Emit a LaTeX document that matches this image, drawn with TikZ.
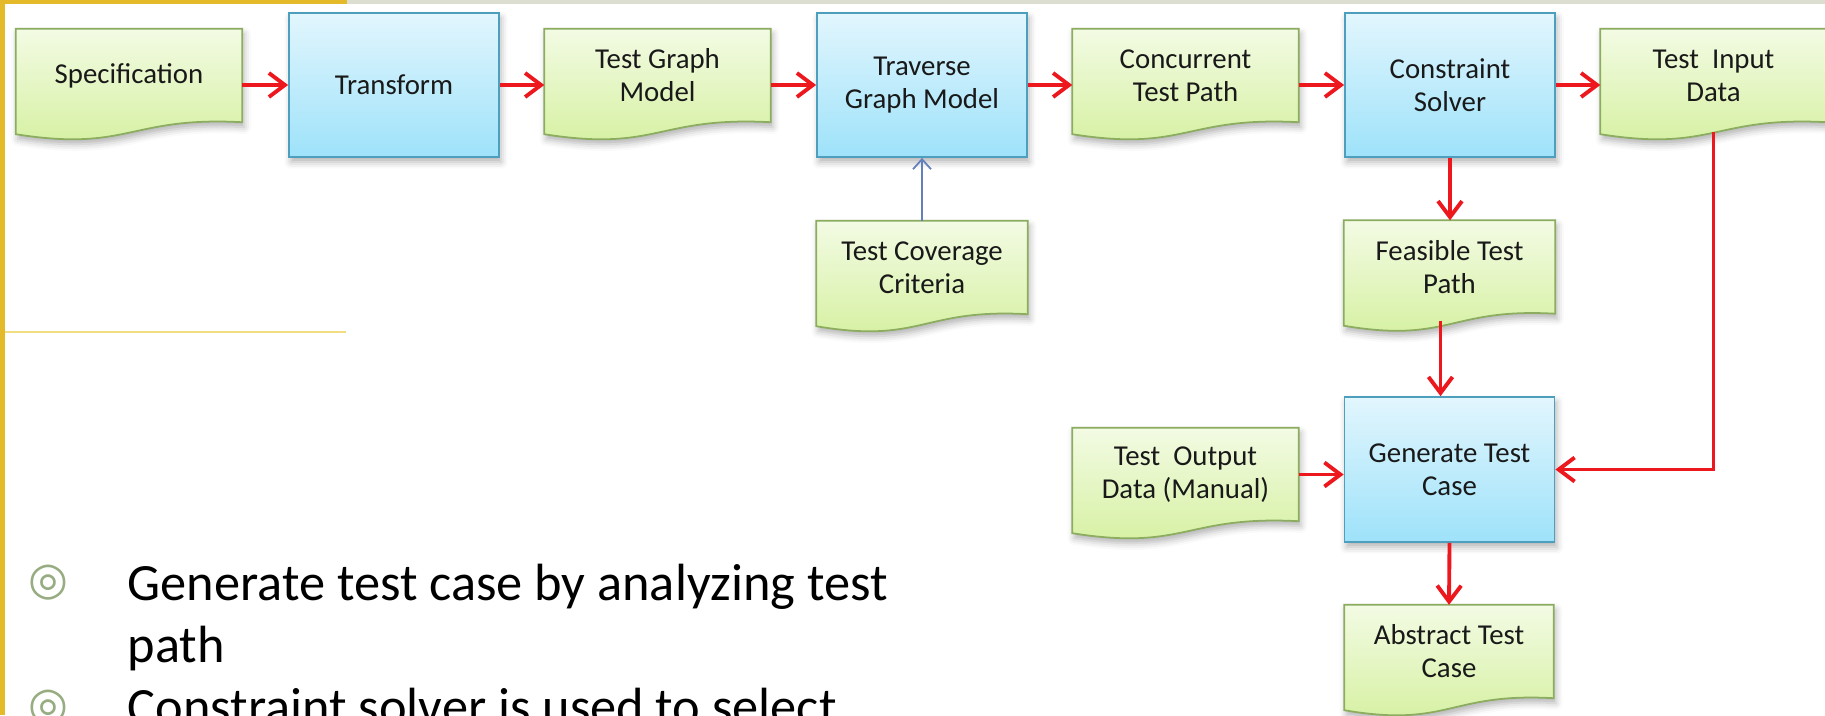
\documentclass[tikz,border=0pt]{standalone}
\usepackage{fontspec}
\setmainfont{Carlito}
\newfontfamily\symfont{DejaVu Sans}
\usetikzlibrary{arrows.meta, calc, shadows.blur}
\pgfdeclarelayer{background}
\pgfsetlayers{background,main}

\definecolor{slideyellow}{RGB}{229,186,42}
\definecolor{slidegray}{RGB}{220,222,208}
\definecolor{lineyellow}{RGB}{242,222,130}
\definecolor{doctop}{RGB}{243,251,228}
\definecolor{docbot}{RGB}{212,240,158}
\definecolor{docline}{RGB}{140,172,96}
\definecolor{boxtop}{RGB}{226,246,253}
\definecolor{boxbot}{RGB}{158,226,250}
\definecolor{boxline}{RGB}{78,158,190}
\definecolor{flowred}{RGB}{236,24,30}
\definecolor{feedblue}{RGB}{100,128,186}
\definecolor{bulletgreen}{RGB}{152,172,130}

\begin{document}
\begin{tikzpicture}[
    every node/.style={font=\fontsize{8.2}{9.4}\selectfont, text=black!90},
    procbox/.style={draw=boxline, line width=0.5pt, top color=boxtop, bottom color=boxbot,
        minimum width=2.10cm, minimum height=1.44cm, inner sep=0pt, align=center,
        blur shadow={shadow xshift=0.02cm, shadow yshift=-0.05cm, shadow opacity=30}},
    docnode/.style={minimum width=2.25cm, minimum height=0.92cm, inner sep=0pt, align=center},
    docshape/.style={draw=docline, line width=0.5pt, top color=doctop, bottom color=docbot,
        blur shadow={shadow xshift=0.02cm, shadow yshift=-0.05cm, shadow opacity=30}},
    flow/.style={draw=flowred, line width=1.1pt, -{Straight Barb[length=1.6mm, width=2.4mm]}},
    feed/.style={draw=feedblue, line width=0.5pt, -{Straight Barb[length=1mm, width=1.8mm]}},
    bullettext/.style={font=\fontsize{14.9}{17.6}\selectfont, text=black, anchor=base west, inner sep=0pt},
    bulletmark/.style={font=\symfont\fontsize{13}{13}\selectfont, text=bulletgreen, inner sep=0pt},
]

\useasboundingbox (0,0) rectangle (18.25,-7.15);
\clip (0,0) rectangle (18.25,-7.15);

% === slide frame ===
\fill[slideyellow] (0,0) rectangle (0.05,-7.15);
\fill[slideyellow] (0,0) rectangle (3.47,-0.04);
\fill[slidegray] (3.47,0) rectangle (18.25,-0.04);
\draw[lineyellow, line width=0.6pt] (0.05,-3.32) -- (3.46,-3.32);

% === top row ===
\node[docnode] (spec) at (1.29,-0.755) {Specification};
\node[procbox] (trf) at (3.94,-0.85) {Transform};
\node[docnode] (tgm) at (6.575,-0.755) {Test Graph\\Model};
\node[procbox] (tvs) at (9.22,-0.85) {Traverse\\Graph Model};
\node[docnode] (ctp) at (11.855,-0.755) {Concurrent\\Test Path};
\node[procbox] (cst) at (14.50,-0.85) {Constraint\\Solver};
\node[docnode] (tid) at (17.135,-0.755) {Test\ \ Input\\Data};

% === lower nodes ===
\node[docnode, minimum width=2.10cm] (tcc) at (9.22,-2.675) {Test Coverage\\Criteria};
\node[docnode, minimum width=2.10cm] (ftp) at (14.495,-2.67) {Feasible Test\\Path};
\node[docnode] (tod) at (11.855,-4.745) {Test\ \ Output\\Data (Manual)};
\node[procbox, minimum height=1.45cm] (gtc) at (14.495,-4.695) {Generate Test\\Case};
\node[docnode, minimum width=2.08cm] (atc) at (14.49,-6.515) {Abstract Test\\Case};

% === document outlines (wavy bottom) ===
\begin{pgfonlayer}{background}
\foreach \n in {spec,tgm,ctp,tid,tcc,ftp,tod,atc}{
    \path[docshape] (\n.north west) -- (\n.north east) -- (\n.south east)
        .. controls ($(\n.south)+(0,0.06)$) and ($(\n.south)+(0,-0.30)$) .. ($(\n.south west)+(0,-0.12)$)
        -- cycle;
}
\end{pgfonlayer}

% === connectors ===
\draw[flow] (spec.east |- trf) -- (trf.west);
\draw[flow] (trf.east) -- (trf.east -| tgm.west);
\draw[flow] (tgm.east |- tvs) -- (tvs.west);
\draw[flow] (tvs.east) -- (tvs.east -| ctp.west);
\draw[flow] (ctp.east |- cst) -- (cst.west);
\draw[flow] (cst.east) -- (cst.east -| tid.west);
\draw[feed] (tcc.north) -- (tvs.south);
\draw[flow] (cst.south) -- (cst.south |- ftp.north);
\draw[flow] ([xshift=-0.09cm, yshift=-0.07cm]ftp.south) -- ([xshift=-0.09cm]gtc.north);
\draw[flow] (tod.east) -- (tod.east -| gtc.west);
\draw[flow] ([yshift=-0.1cm]tid.south) |- (gtc.east);
\draw[flow] (gtc.south) -- (atc.north);

% === bullet text ===
\node[bulletmark] (b1) at (0.48,-5.83) {◎};
\node[bullettext] (t1) at (1.27,-6.00) {Generate test case by analyzing test};
\node[bullettext] (t2) at (1.27,-6.62) {path};
\node[bulletmark] (b2) at (0.48,-7.08) {◎};
\node[bullettext] (t3) at (1.27,-7.24) {Constraint solver is used to select};

\end{tikzpicture}
\end{document}
